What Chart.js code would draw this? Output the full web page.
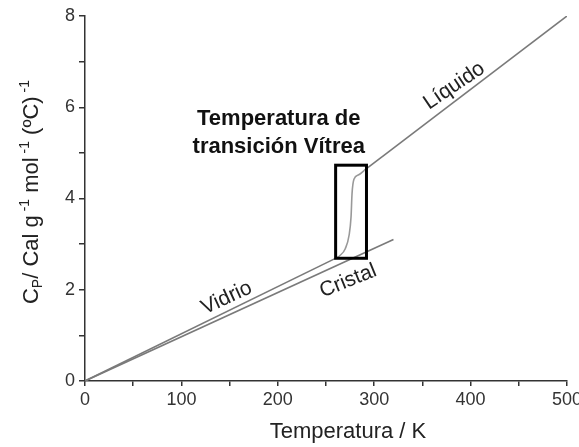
<!DOCTYPE html>
<html>
<head>
<meta charset="utf-8">
<script src="https://cdn.jsdelivr.net/npm/chart.js@4/dist/chart.umd.min.js"></script>
<style>
    html, body { margin: 0; padding: 0; background: #fff; overflow: hidden; }
    #wrap { width: 585px; height: 447px; position: relative; }
</style>
</head>
<body>
<div id="wrap"><canvas id="mainChart"></canvas></div>
<script>
// datos
const glassT  = [0, 263];
const glassCp = [0, 2.72];
const transT  = [263, 270, 274, 276, 277, 279, 284, 290];
const transCp = [2.72, 2.9, 3.2, 3.6, 4.1, 4.42, 4.52, 4.62];
const crystalT  = [0, 320];
const crystalCp = [0, 3.1];
const liquidT  = [290, 500];
const liquidCp = [4.62, 8.0];
const xTickLabels = [0, 100, 200, 300, 400, 500];
const yTickLabels = [0, 2, 4, 6, 8];

// recuadro de la transicion vitrea (en unidades de datos)
const glassBox = { t0: 260, t1: 292, cp0: 2.69, cp1: 4.73 };

const FONT = "'Liberation Sans', Arial, sans-serif";

const notes = [
    { text: 'Vidrio',  t: 147, cp: 1.82, angle: -25 },
    { text: 'Cristal', t: 273, cp: 2.19, angle: -22 },
    { text: 'Líquido', t: 383, cp: 6.47, angle: -34 }
];
const titleLines = [
    { text: 'Temperatura de',    t: 201, cp: 5.61 },
    { text: 'transición Vítrea', t: 201, cp: 5.0 }
];

function toPoints(xs, ys) {
    return xs.map((x, i) => ({ x: x, y: ys[i] }));
}

const overlay = {
    id: 'overlay',
    afterDatasetsDraw(chart) {
        const ctx = chart.ctx;
        const xs = chart.scales.x, ys = chart.scales.y;
        ctx.save();

        // recuadro
        ctx.strokeStyle = '#000';
        ctx.lineWidth = 3;
        const bx0 = xs.getPixelForValue(glassBox.t0), bx1 = xs.getPixelForValue(glassBox.t1);
        const by0 = ys.getPixelForValue(glassBox.cp1), by1 = ys.getPixelForValue(glassBox.cp0);
        ctx.strokeRect(bx0, by0, bx1 - bx0, by1 - by0);

        // etiquetas de las curvas
        ctx.fillStyle = '#222';
        ctx.font = '21px ' + FONT;
        ctx.textAlign = 'center';
        ctx.textBaseline = 'middle';
        notes.forEach(n => {
            ctx.save();
            ctx.translate(xs.getPixelForValue(n.t), ys.getPixelForValue(n.cp));
            ctx.rotate(n.angle * Math.PI / 180);
            ctx.fillText(n.text, 0, 0);
            ctx.restore();
        });

        // titulo interno
        ctx.font = 'bold 22px ' + FONT;
        ctx.fillStyle = '#111';
        ctx.textBaseline = 'alphabetic';
        titleLines.forEach(l => {
            ctx.fillText(l.text, xs.getPixelForValue(l.t), ys.getPixelForValue(l.cp));
        });

        // titulo eje x
        ctx.font = '22px ' + FONT;
        ctx.fillStyle = '#222';
        ctx.fillText('Temperatura / K', 348, 438);

        // titulo eje y con subindices
        const parts = [
            { t: 'C', s: 22, dy: 0 },
            { t: 'P', s: 14, dy: 4 },
            { t: '/ Cal g', s: 22, dy: 0 },
            { t: ' -1', s: 14, dy: -9 },
            { t: ' mol', s: 22, dy: 0 },
            { t: ' -1', s: 14, dy: -9 },
            { t: ' (ºC)', s: 22, dy: 0 },
            { t: ' -1', s: 14, dy: -9 }
        ];
        let total = 0;
        parts.forEach(p => { ctx.font = p.s + 'px ' + FONT; p.w = ctx.measureText(p.t).width; total += p.w; });
        ctx.translate(38, 192);
        ctx.rotate(-Math.PI / 2);
        ctx.textAlign = 'left';
        let pos = -total / 2;
        parts.forEach(p => {
            ctx.font = p.s + 'px ' + FONT;
            ctx.fillText(p.t, pos, p.dy);
            pos += p.w;
        });
        ctx.restore();
    }
};

const lineStyle = { showLine: true, borderColor: '#7a7a7a', borderWidth: 1.6, pointRadius: 0 };

const ctx = document.getElementById('mainChart').getContext('2d');
new Chart(ctx, {
    type: 'scatter',
    data: {
        datasets: [
            Object.assign({ label: 'Vidrio', data: toPoints(glassT, glassCp) }, lineStyle),
            Object.assign({ label: 'Transición', data: toPoints(transT, transCp) }, lineStyle,
                { borderColor: '#999', cubicInterpolationMode: 'monotone' }),
            Object.assign({ label: 'Cristal', data: toPoints(crystalT, crystalCp) }, lineStyle),
            Object.assign({ label: 'Líquido', data: toPoints(liquidT, liquidCp) }, lineStyle)
        ]
    },
    options: {
        responsive: true,
        maintainAspectRatio: false,
        animation: false,
        layout: { padding: { top: 16, left: 0, right: 0, bottom: 0 } },
        plugins: { legend: { display: false }, tooltip: { enabled: false } },
        scales: {
            x: {
                type: 'linear',
                min: 0, max: 500,
                afterFit: s => { s.height = 66; },
                ticks: {
                    stepSize: 50,
                    autoSkip: false,
                    maxRotation: 0,
                    padding: 3,
                    color: '#333',
                    font: { size: 18, family: FONT },
                    callback: v => xTickLabels.includes(v) ? v : ''
                },
                grid: { drawOnChartArea: false, tickLength: 5, color: '#333', lineWidth: 1.5 },
                border: { color: '#333', width: 1.5 }
            },
            y: {
                min: 0, max: 8,
                afterFit: s => { s.width = 85; },
                ticks: {
                    stepSize: 1,
                    autoSkip: false,
                    padding: 4,
                    color: '#333',
                    font: { size: 18, family: FONT },
                    callback: v => yTickLabels.includes(v) ? v : ''
                },
                grid: { drawOnChartArea: false, tickLength: 6, color: '#333', lineWidth: 1.5 },
                border: { color: '#333', width: 1.5 }
            }
        }
    },
    plugins: [overlay]
});
</script>
</body>
</html>
